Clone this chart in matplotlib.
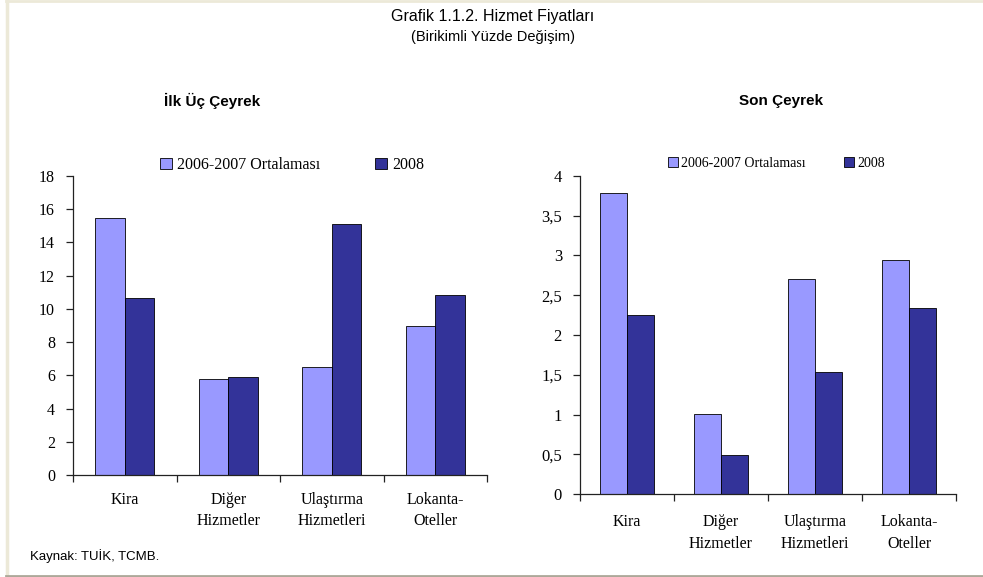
import matplotlib
matplotlib.use("Agg")
import matplotlib.pyplot as plt
from matplotlib import font_manager
from matplotlib.lines import Line2D
import numpy as np

# ---- data ----
categories = ["Kira", "Diğer\nHizmetler", "Ulaştırma\nHizmetleri", "Lokanta-\nOteller"]
series_names = ["2006-2007 Ortalaması", "2008"]

ilk_avg = [15.5, 5.8, 6.5, 9.0]
ilk_2008 = [10.65, 5.9, 15.1, 10.85]

son_avg = [3.78, 1.01, 2.70, 2.94]
son_2008 = [2.25, 0.49, 1.53, 2.34]

ilk_yticks = [0, 2, 4, 6, 8, 10, 12, 14, 16, 18]
ilk_yticklabels = ["0", "2", "4", "6", "8", "10", "12", "14", "16", "18"]
son_yticks = [0, 0.5, 1, 1.5, 2, 2.5, 3, 3.5, 4]
son_yticklabels = ["0", "0,5", "1", "1,5", "2", "2,5", "3", "3,5", "4"]

# ---- style ----
LIGHT = "#9999FF"
DARK = "#333399"
installed = {f.name for f in font_manager.fontManager.ttflist}
SERIF = "Liberation Serif" if "Liberation Serif" in installed else "DejaVu Serif"
NARROW = "Liberation Sans Narrow" if "Liberation Sans Narrow" in installed else "Liberation Sans"

W, H = 983, 577
fig = plt.figure(figsize=(W / 100, H / 100), dpi=100)
fig.patch.set_facecolor("white")


def px_axes(x0, y_top, x1, y_bottom):
    return fig.add_axes([x0 / W, 1 - y_bottom / H, (x1 - x0) / W, (y_bottom - y_top) / H])


def draw_panel(ax, avg, cur, yticks, yticklabels, ymax, tick_fs, cat_fs, cat_pad, cat_ls):
    x = np.arange(len(categories))
    bw = 0.287
    b1 = ax.bar(x - bw / 2, avg, bw, color=LIGHT, edgecolor="black", linewidth=0.6, zorder=2)
    b2 = ax.bar(x + bw / 2, cur, bw, color=DARK, edgecolor="black", linewidth=0.6, zorder=2)
    ax.set_xlim(-0.5, len(categories) - 0.5)
    ax.set_ylim(0, ymax)
    for s in ("top", "right"):
        ax.spines[s].set_visible(False)
    for s in ("left", "bottom"):
        ax.spines[s].set_color("#222222")
        ax.spines[s].set_linewidth(0.9)
    ax.set_yticks(yticks)
    ax.set_yticklabels(yticklabels, fontfamily=SERIF, fontsize=tick_fs)
    ax.tick_params(axis="y", direction="out", length=5, width=0.9, color="#222222", pad=8)
    # category separators as major ticks, labels on minor ticks
    ax.set_xticks(np.arange(-0.5, len(categories), 1.0))
    ax.set_xticklabels([])
    ax.tick_params(axis="x", which="major", direction="out", length=5, width=0.9, color="#222222")
    ax.set_xticks(x, minor=True)
    ax.set_xticklabels(categories, minor=True, fontfamily=SERIF, fontsize=cat_fs, linespacing=cat_ls)
    ax.tick_params(axis="x", which="minor", length=0, pad=cat_pad)
    ax.set_facecolor("white")
    return b1, b2


# left panel
axL = px_axes(73, 176, 487, 475)
bL = draw_panel(axL, ilk_avg, ilk_2008, ilk_yticks, ilk_yticklabels, 18, 11.5, 11.5, 12, 1.45)
fig.legend(bL, series_names, loc="center left", bbox_to_anchor=(160 / W, 1 - 165 / H),
           ncol=2, frameon=False, borderpad=0, borderaxespad=0,
           handlelength=0.75, handleheight=0.75, handletextpad=0.3, columnspacing=3.45,
           prop={"family": SERIF, "size": 11.5})

# right panel
axR = px_axes(580, 175.7, 956, 494.3)
bR = draw_panel(axR, son_avg, son_2008, son_yticks, son_yticklabels, 4, 12, 11.5, 14, 1.55)
fig.legend(bR, series_names, loc="center left", bbox_to_anchor=(668 / W, 1 - 163 / H),
           ncol=2, frameon=False, borderpad=0, borderaxespad=0,
           handlelength=0.75, handleheight=0.75, handletextpad=0.2, columnspacing=2.75,
           prop={"family": SERIF, "size": 10})

# titles
fig.text(493 / W, 1 - 17 / H, "Grafik 1.1.2. Hizmet Fiyatları", ha="center", va="center",
         fontfamily=NARROW, fontsize=11.5)
fig.text(493 / W, 1 - 37 / H, "(Birikimli Yüzde Değişim)", ha="center", va="center",
         fontfamily=NARROW, fontsize=10.5)
fig.text(212 / W, 1 - 101 / H, "İlk Üç Çeyrek", ha="center", va="center",
         fontfamily=NARROW, fontsize=11, fontweight="bold")
fig.text(781 / W, 1 - 101 / H, "Son Çeyrek", ha="center", va="center",
         fontfamily=NARROW, fontsize=11, fontweight="bold")
fig.text(30 / W, 1 - 556 / H, "Kaynak: TUİK, TCMB.", ha="left", va="center",
         fontfamily=NARROW, fontsize=9.5)

# frame lines around the chart area
fig.add_artist(Line2D([7 / W, 7 / W], [1 - 1 / H, 1 - 574 / H], transform=fig.transFigure,
                      color="#ECE9D8", linewidth=2.5))
fig.add_artist(Line2D([6 / W, 1.0], [1 - 1 / H, 1 - 1 / H], transform=fig.transFigure,
                      color="#ECE9D8", linewidth=2.0))
fig.add_artist(Line2D([6 / W, 1.0], [1 - 575.5 / H, 1 - 575.5 / H], transform=fig.transFigure,
                      color="#ACA899", linewidth=2.0))

fig.savefig("out.png", dpi=100)
